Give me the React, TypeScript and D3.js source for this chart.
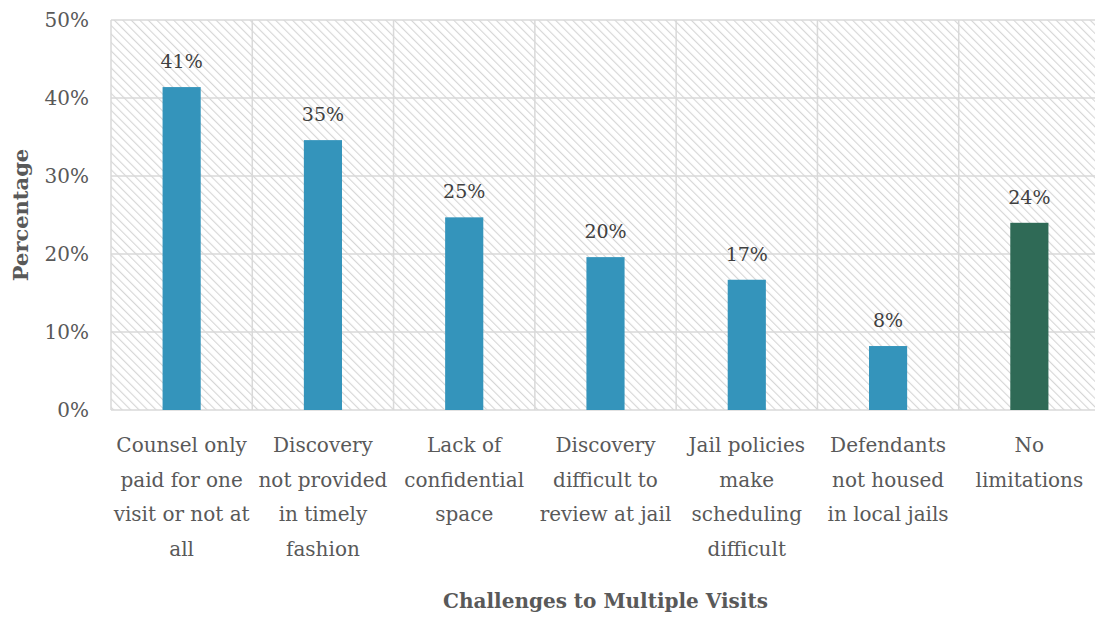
import React from "react";
import * as d3 from "d3";

const categories = [
  ["Counsel only", "paid for one", "visit or not at", "all"],
  ["Discovery", "not provided", "in timely", "fashion"],
  ["Lack of", "confidential", "space"],
  ["Discovery", "difficult to", "review at jail"],
  ["Jail policies", "make", "scheduling", "difficult"],
  ["Defendants", "not housed", "in local jails"],
  ["No", "limitations"],
];
const values = [41.4, 34.6, 24.7, 19.6, 16.7, 8.2, 24.0];
const labels = ["41%", "35%", "25%", "20%", "17%", "8%", "24%"];
const colors = ["#3494bb", "#3494bb", "#3494bb", "#3494bb", "#3494bb", "#3494bb", "#2f6a56"];
const yTicks = [0, 10, 20, 30, 40, 50];

const W = 1095, H = 617;
const left = 111, right = 1100, top = 20, bottom = 410;
const FONT = "'DejaVu Serif', serif";
const TEXT = "#595959";

export default function App() {
  const x = d3.scaleBand<number>().domain(d3.range(values.length)).range([left, right]).paddingInner(0).paddingOuter(0);
  const y = d3.scaleLinear().domain([0, 50]).range([bottom, top]);
  const bw = x.bandwidth();
  const barW = bw * 0.27;
  return (
    <svg width={W} height={H} style={{ position: "absolute", left: 0, top: 0, background: "#fff" }}>
      <defs>
        <pattern id="hatch" patternUnits="userSpaceOnUse" width={6} height={6} patternTransform="rotate(-45)">
          <rect width={6} height={6} fill="#fff" />
          <line x1={0} y1={0} x2={0} y2={6} stroke="#d6d6d6" strokeWidth={2.2} />
        </pattern>
      </defs>
      <rect x={left} y={top} width={right - left} height={bottom - top} fill="url(#hatch)" />
      {yTicks.map((t) => (
        <g key={t}>
          <line x1={left} x2={right} y1={y(t)} y2={y(t)} stroke="#d9d9d9" strokeWidth={1.5} />
          <text x={left - 22} y={y(t)} dy="0.35em" textAnchor="end" fontFamily={FONT} fontSize={20} fill={TEXT}>
            {t}%
          </text>
        </g>
      ))}
      {d3.range(values.length + 1).map((i) => {
        const xx = i < values.length ? x(i)! : right;
        return <line key={i} x1={xx} x2={xx} y1={top} y2={bottom} stroke="#d9d9d9" strokeWidth={1.5} />;
      })}
      {values.map((v, i) => {
        const cx = x(i)! + bw / 2;
        return (
          <g key={i}>
            <rect x={cx - barW / 2} y={y(v)} width={barW} height={bottom - y(v)} fill={colors[i]} />
            <text x={cx} y={y(v) - 19} textAnchor="middle" fontFamily={FONT} fontSize={19} fill="#404040">
              {labels[i]}
            </text>
            {categories[i].map((line, j) => (
              <text key={j} x={cx} y={452 + j * 34.5} textAnchor="middle" fontFamily={FONT} fontSize={20} fill={TEXT}>
                {line}
              </text>
            ))}
          </g>
        );
      })}
      <text
        transform={`translate(28, ${(top + bottom) / 2}) rotate(-90)`}
        textAnchor="middle"
        fontFamily={FONT}
        fontSize={21}
        fontWeight="bold"
        fill={TEXT}
      >
        Percentage
      </text>
      <text x={(left + right) / 2} y={608} textAnchor="middle" fontFamily={FONT} fontSize={20} fontWeight="bold" fill={TEXT}>
        Challenges to Multiple Visits
      </text>
    </svg>
  );
}
